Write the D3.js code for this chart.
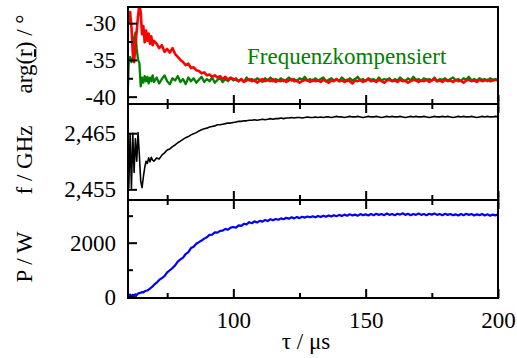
<!DOCTYPE html>
<html><head><meta charset="utf-8">
<script src="https://cdn.jsdelivr.net/npm/d3@7"></script>
<style>
body{margin:0;background:#fff}
svg{display:block}
text{font-family:"Liberation Serif","Times New Roman",serif}
</style>
</head><body><svg id="c" width="517" height="358"></svg>
<script>
// ---------- data ----------
const tau = [60,60.5,61,61.5,62,62.5,63,63.5,64,64.5,65,65.5,66,66.5,67,67.5,68,68.5,69,69.5,70,
71,72,73,74,75,76,77,78,79,80,81,82,83,84,85,86,87,88,89,90,91,92,93,94,95,96,97,98,99,100,
101,102,103,104,105,106,107,108,109,110,111,112,113,114,115,116,117,118,119,120,
121,122,123,124,125,126,127,128,129,130,131,132,133,134,135,136,137,138,139,140,
141,142,143,144,145,146,147,148,149,150,151,152,153,154,155,156,157,158,159,160,
161,162,163,164,165,166,167,168,169,170,171,172,173,174,175,176,177,178,179,180,
181,182,183,184,185,186,187,188,189,190,191,192,193,194,195,196,197,198,199,200];

// arg(r) / degree, uncompensated (red)
const argRaw = [-28.2,-29.8,-28.5,-30.5,-34,-35.3,-33,-31,-29,-27.5,-28.5,-31.5,-30.4,-32.6,-31.0,-32.4,-31.4,-32.8,-31.8,-33.0,-32.4,
-32.8,-33.4,-33.0,-33.9,-33.5,-34.0,-33.4,-34.2,-34.6,-35.0,-35.3,-35.7,-35.5,-36.1,-36.0,-36.4,-36.5,-36.8,-36.7,-37.1,
-37.0,-37.3,-37.1,-37.4,-37.2,-37.6,-37.3,-37.7,-37.4,-37.6,
-37.7,-37.9,-37.6,-38.0,-37.8,-37.6,-37.9,-37.7,-38.1,-37.8,
-37.6,-37.9,-37.7,-37.9,-37.6,-38.0,-37.8,-37.9,-37.7,-38.0,
-37.8,-37.6,-37.9,-37.8,-38.1,-37.9,-37.7,-37.8,-38.0,-37.7,
-37.9,-37.8,-38.0,-37.7,-37.9,-38.1,-37.8,-37.9,-37.6,-37.9,
-37.8,-38.0,-37.7,-37.9,-38.2,-37.8,-37.9,-37.7,-38.0,-37.8,
-37.6,-37.9,-37.8,-38.0,-37.7,-37.9,-38.1,-37.8,-37.7,-37.9,
-37.8,-38.0,-37.7,-37.9,-37.8,-38.1,-37.9,-37.7,-37.8,-38.0,
-37.8,-37.9,-37.7,-38.0,-37.8,-37.6,-37.9,-37.8,-38.0,-37.7,
-37.9,-37.8,-38.0,-37.7,-37.9,-37.8,-38.1,-37.8,-37.7,-37.9,
-37.8,-38.0,-37.7,-37.9,-37.8,-37.7,-37.9,-37.8,-37.7,-37.8];

// arg(r) / degree, frequency compensated (green)
const argComp = [-40.8,-35.0,-34.6,-35.3,-34.8,-32.0,-31.3,-33.5,-35.0,-35.4,-38.6,-37.4,-38.1,-37.2,-37.9,-37.3,-38.2,-37.4,-37.9,-37.1,-38.0,
-37.4,-38.2,-37.6,-37.1,-37.9,-38.3,-37.5,-37.8,-37.2,-38.0,
-37.6,-38.3,-37.4,-37.9,-37.5,-38.1,-37.7,-37.3,-38.0,-37.6,
-37.9,-37.4,-38.1,-37.7,-37.5,-38.0,-37.6,-37.9,-37.5,-37.8,
-37.5,-37.9,-37.6,-38.0,-37.4,-37.8,-37.6,-37.9,-37.5,-37.7,
-38.0,-37.5,-37.8,-37.4,-37.9,-37.6,-37.8,-37.5,-37.9,-37.7,
-37.4,-37.8,-37.6,-37.9,-37.5,-37.7,-37.3,-37.8,-37.6,-37.9,
-37.5,-37.8,-37.6,-37.4,-37.9,-37.7,-37.5,-37.8,-37.6,-37.9,
-37.4,-37.7,-37.9,-37.5,-37.8,-37.6,-37.3,-37.8,-37.6,-37.9,
-37.5,-37.7,-37.6,-37.9,-37.4,-37.8,-37.6,-37.7,-37.5,-37.9,
-37.6,-37.8,-37.4,-37.7,-37.9,-37.5,-37.8,-37.3,-37.7,-37.6,
-37.9,-37.5,-37.7,-37.6,-37.8,-37.4,-37.9,-37.6,-37.7,-37.5,
-37.8,-37.6,-37.4,-37.8,-37.6,-37.9,-37.5,-37.7,-37.3,-37.8,
-37.6,-37.8,-37.5,-37.7,-37.6,-37.9,-37.5,-37.7,-37.6,-37.7];

// f / GHz (black)
const freq = [2.4650,2.4553,2.4649,2.4552,2.4650,2.4580,2.4640,2.4600,2.4651,2.4610,2.4565,2.4553,2.4572,2.4588,2.4600,2.4596,2.4606,2.4599,2.4607,2.4602,2.4600,
2.4606,2.4604,2.4611,2.4615,2.4620,2.4622,2.4626,2.4629,2.4633,2.4636,2.4639,2.4642,2.4644,2.4647,2.4649,2.4651,2.4654,2.4656,2.4658,2.4659,
2.4661,2.4662,2.4663,2.4665,2.4665,2.4666,2.4667,2.4668,2.4668,2.4669,2.4670,2.4671,2.4671,2.4672,2.4672,2.4673,
2.4673,2.4674,2.4673,2.4674,2.4675,2.4674,2.4675,2.4676,2.4675,2.4676,2.4676,2.4677,2.4676,2.4677,
2.4677,2.4678,2.4677,2.4678,2.4678,2.4677,2.4678,2.4679,2.4678,2.4678,
2.4679,2.4678,2.4679,2.4678,2.4679,2.4679,2.4678,2.4679,2.4680,2.4679,
2.4679,2.4678,2.4679,2.4680,2.4679,2.4679,2.4680,2.4679,2.4678,2.4679,
2.4680,2.4679,2.4679,2.4680,2.4679,2.4678,2.4679,2.4680,2.4679,2.4680,
2.4679,2.4679,2.4680,2.4679,2.4678,2.4679,2.4680,2.4679,2.4680,2.4679,
2.4679,2.4680,2.4679,2.4678,2.4679,2.4680,2.4679,2.4679,2.4680,2.4679,
2.4680,2.4679,2.4678,2.4679,2.4680,2.4679,2.4680,2.4679,2.4679,2.4680,
2.4679,2.4678,2.4679,2.4680,2.4679,2.4680,2.4679,2.4679,2.4680,2.4679];

// P / W (blue)
const power = [60,20,80,10,70,40,90,60,120,130,150,170,160,200,220,230,260,300,340,380,440,
520,620,690,760,900,980,1060,1160,1300,1380,1450,1580,1650,1800,1850,1960,2020,2080,2150,2200,
2290,2300,2380,2370,2440,2450,2510,2480,2560,2580,2560,2640,2620,2700,2680,2760,
2720,2790,2750,2810,2780,2840,2800,2870,2830,2880,2850,2900,2870,2920,
2890,2940,2900,2950,2910,2960,2930,2970,2940,2980,
2940,2990,2950,3000,2960,3010,2970,3020,2980,3030,
2990,3040,3000,3050,3010,3040,3000,3060,3020,3050,
3010,3060,3020,3070,3030,3060,3020,3080,3030,3060,
3020,3070,3040,3090,3030,3070,3020,3060,3030,3080,
3030,3060,3020,3070,3040,3080,3030,3060,3020,3070,
3030,3060,3020,3050,3010,3060,3020,3070,3030,3060,
3010,3050,3020,3060,3010,3050,3000,3040,3010,3040];

const xMajor = [100,150,200];
const xMinor = [75,125,175];
const argMajor = [-40,-35,-30], argMinor = [-37.5,-32.5];
const fMajor = [2.455,2.465], fMinor = [2.46];
const pMajor = [0,2000], pMinor = [1000,3000];

// ---------- layout ----------
const svg = d3.select("#c");
const L = 128, R = 498;
const FS = 23;
const x = d3.scaleLinear().domain([60.2,200]).range([L,R]);

const panels = [
  {top:7, bot:104, domain:[-41,-27.8], major:argMajor, minor:argMinor, fmt:d=>String(d),
   series:[{v:argComp,c:"#008000",w:2.3},{v:argRaw,c:"#ff0000",w:2.6}], label:"arg", ly:54},
  {top:104, bot:200, domain:[2.4531,2.4702], major:fMajor, minor:fMinor, fmt:d=>d3.format(".3f")(d).replace(".",","),
   series:[{v:freq,c:"#000000",w:1.6}], label:"f / GHz", ly:160},
  {top:200, bot:298, domain:[-48,3581], major:pMajor, minor:pMinor, fmt:d=>String(d),
   series:[{v:power,c:"#0000ff",w:2.2}], label:"P / W", ly:257}
];

panels.forEach((p,i)=>{
  const y = d3.scaleLinear().domain(p.domain).range([p.bot,p.top]);
  const cid = "clip"+i;
  svg.append("clipPath").attr("id",cid).append("rect")
    .attr("x",L).attr("y",p.top).attr("width",R-L).attr("height",p.bot-p.top);
  const g = svg.append("g").attr("clip-path",`url(#${cid})`);
  p.series.forEach(s=>{
    const line = d3.line().x((d,j)=>x(tau[j])).y(d=>y(d));
    g.append("path").datum(s.v).attr("d",line)
      .attr("fill","none").attr("stroke",s.c).attr("stroke-width",s.w)
      .attr("stroke-linejoin","round");
  });

  const yAx = svg.append("g").attr("transform",`translate(${L},0)`)
    .call(d3.axisLeft(y).tickValues(p.major).tickSizeInner(-9).tickSizeOuter(0).tickPadding(12).tickFormat(p.fmt));
  const yAxm = svg.append("g").attr("transform",`translate(${L},0)`)
    .call(d3.axisLeft(y).tickValues(p.minor).tickSizeInner(-5).tickSizeOuter(0).tickFormat(""));
  [yAx,yAxm].forEach(a=>{a.select(".domain").remove(); a.selectAll("line").attr("stroke","#000").attr("stroke-width",2);});
  yAx.selectAll("text").attr("font-size",FS).attr("font-family","Liberation Serif").attr("fill","#000").attr("dy","0.33em");

  const xb = svg.append("g").attr("transform",`translate(0,${p.bot})`)
    .call(d3.axisBottom(x).tickValues(xMajor).tickSizeInner(-9).tickSizeOuter(0).tickPadding(13.5)
      .tickFormat(i===2 ? d=>String(d) : ""));
  const xbm = svg.append("g").attr("transform",`translate(0,${p.bot})`)
    .call(d3.axisBottom(x).tickValues(xMinor).tickSizeInner(-5).tickSizeOuter(0).tickFormat(""));
  [xb,xbm].forEach(a=>{a.select(".domain").remove(); a.selectAll("line").attr("stroke","#000").attr("stroke-width",2);});
  xb.selectAll("text").attr("font-size",FS).attr("font-family","Liberation Serif").attr("fill","#000");

  if(i>0){
    const xt = svg.append("g").attr("transform",`translate(0,${p.top})`)
      .call(d3.axisTop(x).tickValues(xMajor).tickSizeInner(-9).tickSizeOuter(0).tickFormat(""));
    const xtm = svg.append("g").attr("transform",`translate(0,${p.top})`)
      .call(d3.axisTop(x).tickValues(xMinor).tickSizeInner(-5).tickSizeOuter(0).tickFormat(""));
    [xt,xtm].forEach(a=>{a.select(".domain").remove(); a.selectAll("line").attr("stroke","#000").attr("stroke-width",2);});
  }

  svg.append("rect").attr("x",L).attr("y",p.top).attr("width",R-L).attr("height",p.bot-p.top)
    .attr("fill","none").attr("stroke","#000").attr("stroke-width",2);

  const t = svg.append("text").attr("transform",`translate(32,${p.ly}) rotate(-90)`)
    .attr("text-anchor","middle").attr("font-size",FS).attr("fill","#000");
  if(p.label==="arg"){
    t.append("tspan").text("arg(");
    t.append("tspan").attr("text-decoration","underline").style("text-decoration","underline").text("r");
    t.append("tspan").text(") / °");
  } else t.text(p.label);
});

svg.append("text").attr("x",247).attr("y",64).attr("font-size",FS).attr("fill","#008000")
  .text("Frequenzkompensiert");

svg.append("text").attr("x",306).attr("y",349).attr("text-anchor","middle").attr("font-size",FS)
  .attr("fill","#000").text("τ / μs");
</script>
</body></html>
